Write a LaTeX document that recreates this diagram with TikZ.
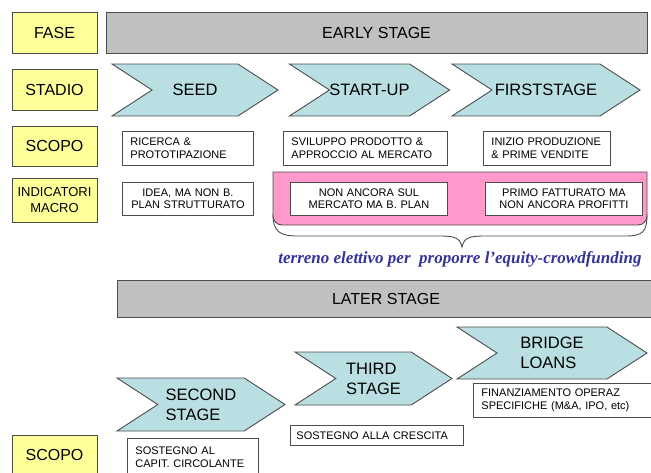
\documentclass[tikz,border=0pt]{standalone}
\usepackage{fontspec}
\setmainfont{Liberation Sans}
\newfontfamily\notefont{Liberation Serif}
\usetikzlibrary{shapes.symbols}
\definecolor{fasegiallo}{HTML}{FFFF99}
\definecolor{fasegrigio}{HTML}{C0C0C0}
\definecolor{stadioblu}{HTML}{B9DFE2}
\definecolor{macrorosa}{HTML}{FF99CC}
\definecolor{noteblu}{HTML}{333399}

\begin{document}
\begin{tikzpicture}[x=1pt,y=-1pt,line width=0.9pt]
		\tikzstyle{voce}=[draw=black!70,fill=fasegiallo,minimum width=85pt,inner sep=0pt,align=center,font=\fontsize{16}{18}\selectfont]
		\tikzstyle{fase}=[draw=black!70,fill=fasegrigio,inner sep=0pt,font=\fontsize{16}{18}\selectfont]
		\tikzstyle{stadio}=[signal,signal from=west,signal to=east,signal pointer angle=66,draw=black!70,fill=stadioblu,inner sep=0pt,align=left,font=\fontsize{16.5}{20}\selectfont]
		\tikzstyle{scopo}=[draw=black!70,fill=white,anchor=north west,inner xsep=8pt,inner ysep=0pt,font=\fontsize{11}{12.5}\selectfont]
		\useasboundingbox (0,0) rectangle (651,472);
		\clip (0,0) rectangle (651,472);
		\node[voce,minimum height=41pt] (fase) at (54.5,32.5) {FASE};
		\node[voce,minimum height=41pt] (stadio) at (54.5,89.5) {STADIO};
		\node[voce,minimum height=40pt] (scopo) at (54.5,146) {SCOPO};
		\node[voce,minimum height=44pt,font=\fontsize{13}{16}\selectfont] (macro) at (54.5,200) {INDICATORI\\MACRO};
		\node[voce,minimum height=40pt] (scopo2) at (54.5,455) {SCOPO};
		\node[fase,minimum width=541pt,minimum height=41pt] (early) at (376.5,32.5) {EARLY STAGE};
		\node[fase,minimum width=538pt,minimum height=37pt] (later) at (386,298.5) {LATER STAGE};
		\node[stadio,minimum width=166pt,minimum height=52pt] (seed) at (195,90) {SEED};
		\node[stadio,minimum width=159pt,minimum height=52pt] (startup) at (369.5,90) {START-UP};
		\node[stadio,minimum width=188pt,minimum height=52pt] (first) at (546,90) {FIRSTSTAGE};
		\node[stadio,minimum width=168pt,minimum height=53pt] (second) at (201,404.5) {SECOND\\STAGE};
		\node[stadio,minimum width=157pt,minimum height=53pt] (third) at (373.5,378.5) {THIRD\\STAGE};
		\node[stadio,minimum width=190pt,minimum height=52pt] (bridge) at (552,353) {BRIDGE\\LOANS};
		\draw[draw=black!70] (273,214) .. controls (273,232) and (280,236) .. (298,236) -- (440,236) .. controls (455,236) and (460,238) .. (462,247) .. controls (464,238) and (469,236) .. (484,236) -- (625,236) .. controls (643,236) and (647,232) .. (647,214);
		\draw[draw=black!70,fill=macrorosa] (273,172) [rounded corners=9pt] -- (273,225) -- (647,225) [sharp corners] -- (647,172) -- cycle;
		\node[scopo,text width=115pt,minimum height=34pt,align=left] (ricerca) at (122,131) {RICERCA \&\\PROTOTIPAZIONE};
		\node[scopo,text width=148pt,minimum height=34pt,align=left] (sviluppo) at (283,131) {SVILUPPO PRODOTTO \&\\APPROCCIO AL MERCATO};
		\node[scopo,text width=111pt,minimum height=34pt,align=left] (inizio) at (483,131) {INIZIO PRODUZIONE\\\& PRIME VENDITE};
		\node[scopo,text width=115pt,minimum height=33pt,align=center] (idea) at (122,182) {IDEA, MA NON B.\\PLAN STRUTTURATO};
		\node[scopo,text width=141pt,minimum height=33pt,align=center] (nonancora) at (290,182) {NON ANCORA SUL\\MERCATO MA B. PLAN};
		\node[scopo,text width=141pt,minimum height=33pt,align=center] (primo) at (485,182) {PRIMO FATTURATO MA\\NON ANCORA PROFITTI};
		\node[draw=none,text=noteblu,font=\notefont\bfseries\itshape\fontsize{17}{20}\selectfont] (nota) at (460,259) {terreno elettivo per\ \ proporre l’equity-crowdfunding};
		\node[scopo,text width=115pt,minimum height=38pt,align=left] (capit) at (127,438) {SOSTEGNO AL\\CAPIT. CIRCOLANTE};
		\node[scopo,minimum height=20pt,align=left,inner xsep=6pt,text width=161pt] (crescita) at (290,425) {SOSTEGNO ALLA CRESCITA};
		\node[scopo,text width=166pt,minimum height=34pt,align=left] (finanz) at (473,383) {FINANZIAMENTO OPERAZ\\SPECIFICHE (M\&A, IPO, etc)};
\end{tikzpicture}
\end{document}
